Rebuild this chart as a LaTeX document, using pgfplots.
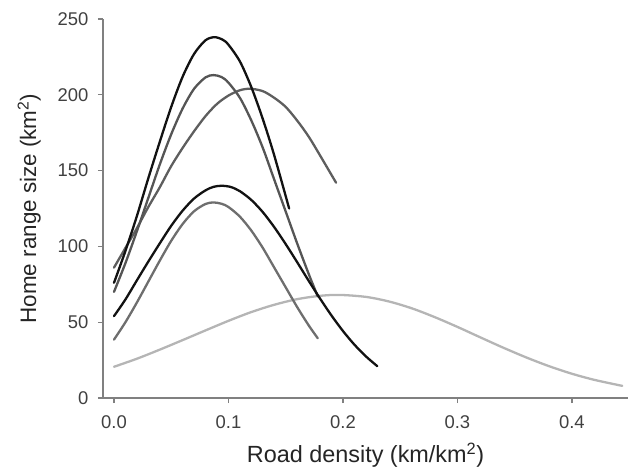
\documentclass[border=0pt]{standalone}
\usepackage{pgfplots}
\pgfplotsset{compat=1.18}
\usepackage{fontspec}
\setmainfont{Liberation Sans}
\definecolor{axgray}{HTML}{808080}
\definecolor{txgray}{HTML}{252525}
\definecolor{tkgray}{HTML}{404040}
\definecolor{cblack}{HTML}{121212}
\definecolor{cgray}{HTML}{555555}
\definecolor{cmid}{HTML}{5E5E5E}
\definecolor{clow}{HTML}{6E6E6E}
\definecolor{clight}{HTML}{B5B5B5}
\begin{document}
\begin{tikzpicture}
\begin{axis}[
  at={(0,0)}, anchor=south west,
  scale only axis, width=525bp, height=379bp,
  xmin=-0.0096, xmax=0.449, ymin=0, ymax=250,
  axis x line*=bottom, axis y line*=left,
  axis line style={axgray, line width=1.3bp, -},
  xtick={0,0.1,0.2,0.3,0.4}, ytick={0,50,100,150,200,250},
  xticklabels={0.0,0.1,0.2,0.3,0.4},
  tick align=outside, major tick length=5bp,
  tick style={axgray, line width=1.3bp},
  /pgf/number format/assume math mode=true,
  ticklabel style={font=\fontsize{18.5}{20}\selectfont, text=tkgray},
  xticklabel style={yshift=-9bp},
  yticklabel style={xshift=-6bp},
  every axis x label/.style={at={(axis description cs:0.5,-0.1715)}, anchor=base, font=\fontsize{23.5}{26}\selectfont, text=txgray},
  every axis y label/.style={at={(axis description cs:-0.1276,0.5)}, rotate=90, anchor=base, font=\fontsize{22.5}{25}\selectfont, text=txgray},
  xlabel={Road density (km/km\textsuperscript{2})},
  ylabel={Home range size (km\textsuperscript{2})},
  clip=false,
  every axis plot/.append style={line width=2.3bp, smooth, no marks, line cap=round},
]
% light gray
\addplot[clight] coordinates {(0,20.6)(0.02,25.9)(0.04,31.9)(0.06,38.2)(0.08,44.6)(0.10,50.9)(0.12,56.7)(0.14,61.5)(0.16,65.2)(0.18,67.4)(0.197,68)(0.22,66.7)(0.24,63.7)(0.26,59.2)(0.28,53.4)(0.30,46.9)(0.32,40)(0.34,33.2)(0.36,26.8)(0.38,21)(0.40,16)(0.42,11.9)(0.444,8)};
% lower gray
\addplot[clow] coordinates {(0,38.5)(0.01,50)(0.02,63)(0.03,76.8)(0.04,90.6)(0.05,103.7)(0.06,114.8)(0.07,123.2)(0.08,128)(0.087,129)(0.094,128.1)(0.10,126)(0.11,119.6)(0.12,110.4)(0.13,99)(0.14,86)(0.15,73)(0.16,60)(0.17,48)(0.178,39.4)};
% medium gray broad
\addplot[cmid] coordinates {(0,86)(0.01,99)(0.02,112)(0.03,126)(0.04,139)(0.05,153)(0.06,165)(0.07,176)(0.08,186)(0.09,194)(0.10,199.5)(0.11,203)(0.119,204)(0.13,202.4)(0.14,198)(0.15,192)(0.16,183)(0.17,172.5)(0.18,160)(0.194,142)};
% gray tall
\addplot[cgray] coordinates {(0,70)(0.01,89)(0.02,110)(0.03,132)(0.04,154)(0.05,174)(0.06,191)(0.07,204)(0.08,211.5)(0.087,213)(0.094,211.7)(0.10,208)(0.11,198)(0.12,183)(0.13,165)(0.14,144)(0.15,123)(0.16,102)(0.17,82)(0.178,67)};
% lower black
\addplot[cblack] coordinates {(0,54)(0.01,65)(0.02,77.6)(0.03,90)(0.04,102)(0.05,113.6)(0.06,123.6)(0.07,131.6)(0.08,137)(0.087,139.3)(0.094,140)(0.102,139.2)(0.11,136.4)(0.12,130.6)(0.13,122.6)(0.14,112.7)(0.15,101.5)(0.16,89.6)(0.17,77.4)(0.18,65.6)(0.19,54.4)(0.20,44.2)(0.21,35.2)(0.22,27.5)(0.23,21)};
% black tall
\addplot[cblack] coordinates {(0,76)(0.01,97)(0.02,120)(0.03,145)(0.04,169)(0.05,192)(0.06,212)(0.07,227)(0.08,236)(0.088,238)(0.095,236.3)(0.10,233)(0.11,222)(0.12,205)(0.13,184)(0.14,160)(0.153,125)};
\end{axis}
\path[use as bounding box] (-103bp,-74bp) rectangle (528bp,398bp);
\end{tikzpicture}
\end{document}
